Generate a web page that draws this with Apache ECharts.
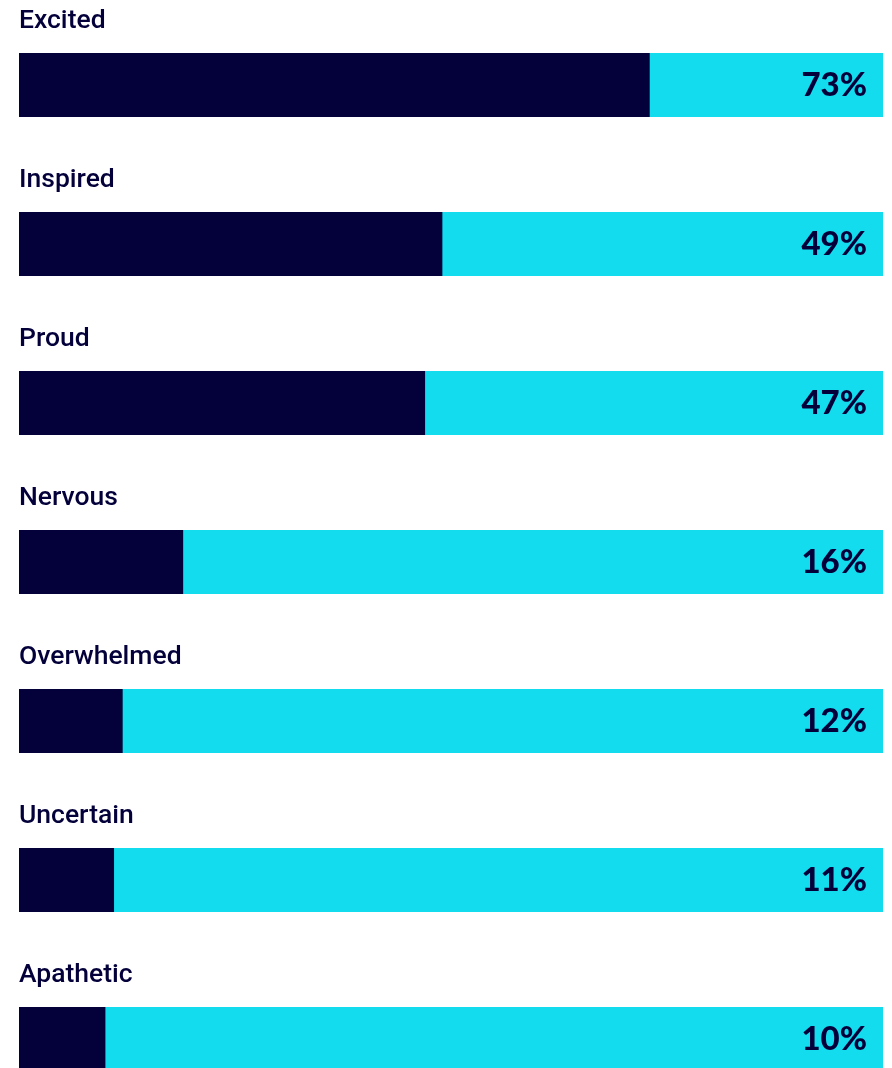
<!DOCTYPE html>
<html>
<head>
<meta charset="utf-8">
<script src="https://cdn.jsdelivr.net/npm/echarts@6/dist/echarts.min.js"></script>
<style>html,body{margin:0;padding:0;background:#fff}#c{width:892px;height:1068px}</style>
</head>
<body>
<div id="c"></div>
<script>
const categories = ['Excited','Inspired','Proud','Nervous','Overwhelmed','Uncertain','Apathetic'];
const barValues = [73, 49, 47, 19, 12, 11, 10];
const percentLabels = ['73%','49%','47%','16%','12%','11%','10%'];
const fullValues = [100, 100, 100, 100, 100, 100, 100];

const DARK = '#03003A';
const CYAN = '#12DCEE';

const chart = echarts.init(document.getElementById('c'), null, {renderer: 'canvas'});
chart.setOption({
  animation: false,
  grid: {left: 19, right: 9, top: 5.5, bottom: -50.5, outerBoundsMode: 'none', containLabel: false},
  xAxis: {type: 'value', min: 0, max: 100, show: false},
  yAxis: {type: 'category', data: categories, inverse: true, show: false},
  series: [
    {
      type: 'bar',
      data: fullValues,
      barWidth: 64,
      itemStyle: {color: CYAN},
      label: {
        show: true,
        position: 'insideRight',
        distance: 16,
        formatter: p => percentLabels[p.dataIndex],
        color: DARK,
        fontFamily: 'Lato',
        fontWeight: 900,
        fontSize: 33
      },
      silent: true
    },
    {
      type: 'bar',
      data: barValues,
      barWidth: 64,
      barGap: '-100%',
      itemStyle: {color: DARK},
      label: {
        show: true,
        position: [0, -32],
        align: 'left',
        verticalAlign: 'middle',
        formatter: p => categories[p.dataIndex],
        color: DARK,
        fontFamily: 'Roboto',
        fontWeight: 500,
        fontSize: 26.5
      },
      silent: true
    }
  ]
});
</script>
</body>
</html>
